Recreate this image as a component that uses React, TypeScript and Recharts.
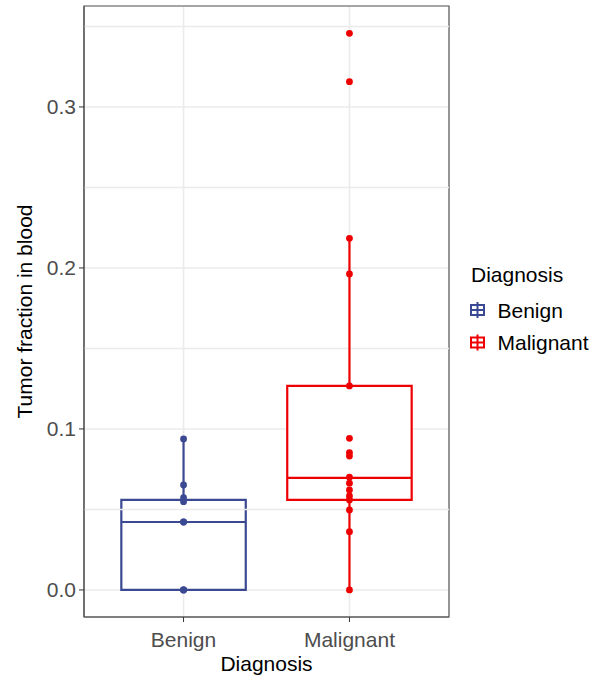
import React from 'react';
import {
  ComposedChart, Scatter, XAxis, YAxis, CartesianGrid, ReferenceArea, ReferenceLine,
} from 'recharts';

const categories = ['Benign', 'Malignant'];
const colors = ['#3B4992', '#EE0000'];

// box statistics: lower whisker, Q1, median, Q3, upper whisker
const boxLower = [0, 0];
const boxQ1 = [0, 0.0559];
const boxMedian = [0.0422, 0.0696];
const boxQ3 = [0.0559, 0.1267];
const boxUpper = [0.0938, 0.2184];

const benignValues = [0, 0, 0, 0.0422, 0.0422, 0.0548, 0.0573, 0.0652, 0.0938];
const malignantValues = [
  0, 0.0362, 0.0497, 0.0559, 0.0584, 0.0621, 0.0663, 0.07, 0.0832, 0.0853,
  0.0942, 0.1267, 0.1963, 0.2184, 0.3157, 0.3457,
];

const yTicks = [0, 0.1, 0.2, 0.3];
const yMinorTicks = [0.05, 0.15, 0.25, 0.35];
const yDomain = [-0.0168, 0.3627];
const xDomain = [0.4, 2.6];
const boxHalf = 0.375;

const FONT = '"Liberation Sans", Arial, Helvetica, sans-serif';
const GRID = '#EBEBEB';
const BORDER = '#5A5A5A';

const pointSets = [benignValues, malignantValues].map((vals, i) =>
  vals.map(v => ({ x: i + 1, y: v }))
);

const Dot = (props: any) => {
  const { cx, cy, fill } = props;
  if (cx == null || cy == null) return null;
  return <circle cx={cx} cy={cy} r={3.4} fill={fill} />;
};

function LegendIcon({ y, color }: { y: number; color: string }) {
  return (
    <g stroke={color} strokeWidth={2} fill="white">
      <line x1={477.5} x2={477.5} y1={y - 8} y2={y + 8} />
      <rect x={471} y={y - 5} width={13} height={10} />
      <line x1={471} x2={484} y1={y} y2={y} />
      <line x1={477.5} x2={477.5} y1={y - 5} y2={y + 5} />
    </g>
  );
}

export default function App() {
  return (
    <div style={{ position: 'absolute', left: 0, top: 0, width: 592, height: 676, background: 'white', fontFamily: FONT }}>
      <ComposedChart width={592} height={676} margin={{ top: 6, right: 143, bottom: 0, left: 0 }}>
        <CartesianGrid stroke={GRID} strokeWidth={1.6} />
        <XAxis
          type="number"
          dataKey="x"
          domain={xDomain}
          ticks={[1, 2]}
          allowDataOverflow
          height={59}
          tickFormatter={(v: number) => categories[v - 1]}
          tick={{ fill: '#4D4D4D', fontSize: 21, fontFamily: FONT }}
          tickLine={{ stroke: '#333333' }}
          axisLine={{ stroke: BORDER, strokeWidth: 1.2 }}
          tickSize={5}
          tickMargin={10}
          label={{ value: 'Diagnosis', position: 'insideBottom', offset: 5, fill: '#000', fontSize: 21, fontFamily: FONT }}
        />
        <YAxis
          type="number"
          dataKey="y"
          domain={yDomain}
          ticks={yTicks}
          allowDataOverflow
          width={84}
          tickFormatter={(v: number) => v.toFixed(1)}
          tick={{ fill: '#4D4D4D', fontSize: 21, fontFamily: FONT }}
          tickLine={{ stroke: '#333333' }}
          axisLine={{ stroke: BORDER, strokeWidth: 1.2 }}
          tickSize={5}
          tickMargin={3}
          label={{ value: 'Tumor fraction in blood', angle: -90, position: 'center', dx: -17, fill: '#000', fontSize: 21, fontFamily: FONT }}
        />
        {yMinorTicks.map(t => (
          <ReferenceLine key={t} y={t} stroke={GRID} strokeWidth={1.6} />
        ))}
        {/* panel border */}
        <ReferenceArea x1={xDomain[0]} x2={xDomain[1]} y1={yDomain[0]} y2={yDomain[1]} fill="none" fillOpacity={0} stroke={BORDER} strokeWidth={1.2} />
        {categories.map((c, i) => (
          <ReferenceArea
            key={'box' + c}
            x1={i + 1 - boxHalf}
            x2={i + 1 + boxHalf}
            y1={boxQ1[i]}
            y2={boxQ3[i]}
            fill="white"
            fillOpacity={1}
            stroke={colors[i]}
            strokeWidth={2.2}
          />
        ))}
        {categories.map((c, i) => (
          <ReferenceLine
            key={'med' + c}
            segment={[{ x: i + 1 - boxHalf, y: boxMedian[i] }, { x: i + 1 + boxHalf, y: boxMedian[i] }]}
            stroke={colors[i]}
            strokeWidth={2.2}
          />
        ))}
        {categories.map((c, i) => (
          <ReferenceLine
            key={'wl' + c}
            segment={[{ x: i + 1, y: boxLower[i] }, { x: i + 1, y: boxQ1[i] }]}
            stroke={colors[i]}
            strokeWidth={2.2}
          />
        ))}
        {categories.map((c, i) => (
          <ReferenceLine
            key={'wu' + c}
            segment={[{ x: i + 1, y: boxQ3[i] }, { x: i + 1, y: boxUpper[i] }]}
            stroke={colors[i]}
            strokeWidth={2.2}
          />
        ))}
        {categories.map((c, i) => (
          <Scatter key={'pts' + c} name={c} data={pointSets[i]} fill={colors[i]} shape={<Dot />} isAnimationActive={false} />
        ))}
      </ComposedChart>
      <svg width={592} height={676} style={{ position: 'absolute', left: 0, top: 0, pointerEvents: 'none' }}>
        <text x={471} y={281.5} fontSize={21} fill="#000" fontFamily={FONT}>Diagnosis</text>
        {categories.map((c, i) => (
          <g key={c}>
            <LegendIcon y={310 + i * 32.5} color={colors[i]} />
            <text x={497.5} y={317.5 + i * 32.5} fontSize={21} fill="#000" fontFamily={FONT}>{c}</text>
          </g>
        ))}
      </svg>
    </div>
  );
}
